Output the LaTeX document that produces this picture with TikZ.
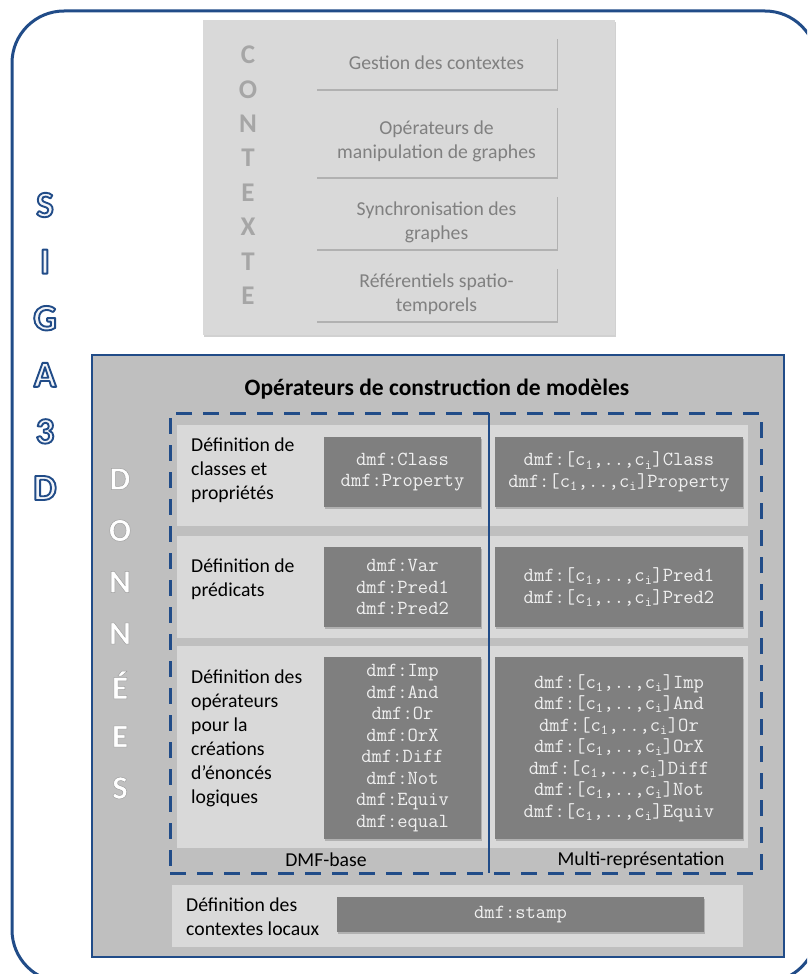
\documentclass[tikz,border=0pt]{standalone}
\usepackage{fontspec}
\setmainfont{Carlito}
\usetikzlibrary{shadows}

\definecolor{sigablue}{RGB}{33,76,136}
\definecolor{panelgray}{RGB}{191,191,191}
\definecolor{rowgray}{RGB}{217,217,217}
\definecolor{boxgray}{RGB}{127,127,127}
\definecolor{ctxgray}{RGB}{166,166,166}
\definecolor{ctxtext}{RGB}{128,128,128}
\definecolor{dmftext}{RGB}{240,240,240}

\newcommand{\bodyfont}{\fontsize{19.7}{24}\selectfont}
\newcommand{\dmffont}{\fontsize{20}{21.5}\selectfont\ttfamily}
\newcommand{\csub}[1]{c\textsubscript{#1}}
\newcommand{\outlined}[3]{%
  \special{pdf:literal direct #1 RG #2 w 1 j 2 Tr}#3\special{pdf:literal direct 0 Tr}}

\begin{document}
\begin{tikzpicture}[x=1pt,y=-1pt,
  sigaframe/.style={draw=sigablue,line width=3pt,rounded corners=52pt,
    minimum width=805pt,minimum height=971pt},
  softshadow/.style={drop shadow={shadow xshift=1.2pt,shadow yshift=-1.8pt,
    opacity=.18,fill=black}},
  ctxpanel/.style={fill=rowgray,softshadow,minimum width=412pt,minimum height=315pt},
  ctxbox/.style={fill=rowgray,softshadow,minimum width=241pt,align=center,
    text=ctxtext,font=\bodyfont},
  ctxletter/.style={text=ctxgray,font=\fontsize{27}{27}\selectfont\bfseries},
  sigaletter/.style={text=white!94!sigablue,font=\fontsize{37}{37}\selectfont\bfseries},
  donletter/.style={text=white,font=\fontsize{33}{33}\selectfont\bfseries},
  donpanel/.style={draw=sigablue,line width=2.5pt,fill=panelgray,
    minimum width=692pt,minimum height=602pt},
  dmfzone/.style={draw=sigablue,line width=3pt,dash pattern=on 16pt off 11pt,
    minimum width=591pt,minimum height=460pt},
  rowbox/.style={fill=rowgray,minimum width=571pt},
  darkbox/.style={fill=boxgray,softshadow,align=center,text=dmftext,font=\dmffont},
  rowlabel/.style={anchor=west,align=left,inner sep=0pt,font=\bodyfont},
  zonelabel/.style={font=\bodyfont}
]
\path[use as bounding box,clip] (0,0) rectangle (807,974);

\node[sigaframe] (siga) at (414.5,496.5) {};
\foreach \l [count=\i from 0] in {S,I,G,A,3,D}
  \node[sigaletter] (siga\i) at (45,{205+56.6*\i})
   {\outlined{0.129 0.298 0.533}{1.9}{\l}};

\node[ctxpanel] (ctx) at (409,177.5) {};
\foreach \l [count=\i from 0] in {C,O,N,T,E,X,T,E}
  \node[ctxletter] (ctx\i) at (248,{55+34.4*\i}) {\l};
\node[ctxbox,minimum height=52pt] (gestion) at (436.5,63)
 {Gestion des contextes};
\node[ctxbox,minimum height=71pt] (manip) at (436.5,141.5)
 {Opérateurs de\\manipulation de graphes};
\node[ctxbox,minimum height=54pt] (sync) at (436.5,222)
 {Synchronisation des\\graphes};
\node[ctxbox,minimum height=54pt] (refer) at (436.5,294)
 {Référentiels spatio-\\temporels};

\node[donpanel] (don) at (438,656) {};
\foreach \l [count=\i from 0] in {D,O,N,N,É,E,S}
  \node[donletter] (don\i) at (120,{479+51.5*\i})
   {\outlined{0.62 0.62 0.62}{0.5}{\l}};
\node[font=\fontsize{23.5}{26}\selectfont\bfseries] (title) at (437,389)
 {Opérateurs de construction de modèles};

\node[rowbox,minimum height=101pt] (classes) at (462.5,475.5) {};
\node[rowbox,minimum height=102pt] (preds) at (462.5,587) {};
\node[rowbox,minimum height=202pt] (opers) at (462.5,747) {};
\node[rowbox,minimum height=62pt] (locaux) at (457.5,916) {};

\node[rowlabel] (lclasses) at (191,470)
 {Définition de\\classes et\\propriétés};
\node[rowlabel] (lpreds) at (191,579)
 {Définition de\\prédicats};
\node[rowlabel] (lopers) at (191,738)
 {Définition des\\opérateurs\\pour la\\créations\\d’énoncés\\logiques};
\node[rowlabel] (llocaux) at (186,917)
 {Définition des\\contextes locaux};

\node[darkbox,minimum width=157pt,minimum height=70pt] (baseclass) at (402.5,472)
 {dmf:Class\\dmf:Property};
\node[darkbox,minimum width=248pt,minimum height=70pt] (multiclass) at (619,472)
 {dmf:[\csub{1},..,\csub{i}]Class\\dmf:[\csub{1},..,\csub{i}]Property};
\node[darkbox,minimum width=157pt,minimum height=80pt] (basepred) at (402.5,587)
 {dmf:Var\\dmf:Pred1\\dmf:Pred2};
\node[darkbox,minimum width=248pt,minimum height=80pt] (multipred) at (619,587)
 {dmf:[\csub{1},..,\csub{i}]Pred1\\dmf:[\csub{1},..,\csub{i}]Pred2};
\node[darkbox,minimum width=157pt,minimum height=182pt] (baseop) at (402.5,748)
 {dmf:Imp\\dmf:And\\dmf:Or\\dmf:OrX\\dmf:Diff\\dmf:Not\\dmf:Equiv\\dmf:equal};
\node[darkbox,minimum width=248pt,minimum height=182pt] (multiop) at (619,748)
 {dmf:[\csub{1},..,\csub{i}]Imp\\dmf:[\csub{1},..,\csub{i}]And\\
  dmf:[\csub{1},..,\csub{i}]Or\\dmf:[\csub{1},..,\csub{i}]OrX\\
  dmf:[\csub{1},..,\csub{i}]Diff\\dmf:[\csub{1},..,\csub{i}]Not\\
  dmf:[\csub{1},..,\csub{i}]Equiv};
\node[darkbox,minimum width=367pt,minimum height=35pt] (stamp) at (520.5,914.5)
 {dmf:stamp};

\node[dmfzone] (zone) at (465.5,643) {};
\coordinate (septop) at (489,413);
\coordinate (sepbot) at (489,873);
\draw[sigablue,line width=2.5pt] (septop) -- (sepbot);
\node[zonelabel] (dmfbase) at (326,860) {DMF-base};
\node[zonelabel] (multirep) at (641,860) {Multi-représentation};
\end{tikzpicture}
\end{document}
